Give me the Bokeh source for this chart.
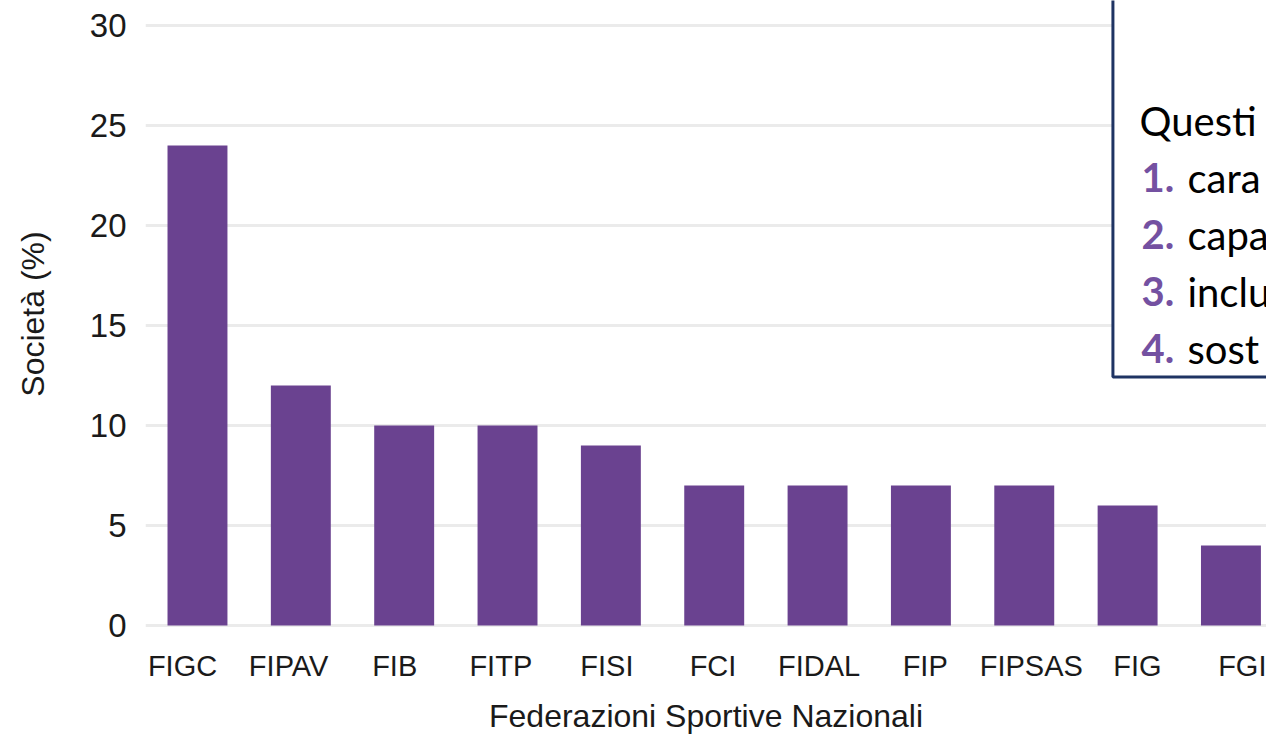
from bokeh.plotting import figure
from bokeh.models import Range1d, FixedTicker, BoxAnnotation, Label, LinearAxis
from bokeh.embed import file_html
from bokeh.resources import INLINE

# ---- data ----
federazioni = ["FIGC", "FIPAV", "FIB", "FITP", "FISI", "FCI", "FIDAL", "FIP", "FIPSAS", "FIG", "FGI"]
societa_pct = [24, 12, 10, 10, 9, 7, 7, 7, 7, 6, 4]
y_ticks = [0, 5, 10, 15, 20, 25, 30]
box_intro = "Questi"
box_numbers = ["1.", "2.", "3.", "4."]
box_items = ["cara", "capa", "inclu", "sost"]

BAR = "#6A4290"
NUM = "#7451A1"
BORDER = "#1F3463"

x_idx = list(range(len(federazioni)))

p = figure(width=1266, height=737, output_backend="svg", toolbar_location=None,
           x_range=Range1d(-0.503, 10.344), y_range=Range1d(-0.1, 31.25),
           x_axis_location=None,
           min_border_left=145, min_border_right=0, min_border_top=0, min_border_bottom=110)
p.outline_line_color = None
p.background_fill_color = "white"
p.border_fill_color = "white"

# category labels in the source sit on a slightly wider pitch than the bars
p.extra_x_ranges = {"labels": Range1d(-0.349, 10.217)}

p.vbar(x=x_idx, top=societa_pct, width=0.58, bottom=0, fill_color=BAR, line_color=None)

p.xgrid.grid_line_color = None
p.ygrid.grid_line_color = "#EBEBEB"
p.ygrid.grid_line_width = 3
p.ygrid.ticker = FixedTicker(ticks=y_ticks)

yax = p.yaxis[0]
yax.ticker = FixedTicker(ticks=y_ticks)
yax.axis_line_color = None
yax.major_tick_line_color = None
yax.minor_tick_line_color = None
yax.major_label_text_font = "Liberation Sans"
yax.major_label_text_font_size = "33px"
yax.major_label_text_color = "#1a1a1a"
yax.major_label_standoff = 13
yax.axis_label = "Società (%)"
yax.axis_label_text_font = "Liberation Sans"
yax.axis_label_text_font_size = "32px"
yax.axis_label_text_font_style = "normal"
yax.axis_label_text_color = "#1a1a1a"
yax.axis_label_standoff = 36

xax = LinearAxis(x_range_name="labels")
xax.ticker = FixedTicker(ticks=x_idx)
xax.major_label_overrides = {i: n for i, n in zip(x_idx, federazioni)}
xax.axis_line_color = None
xax.major_tick_line_color = None
xax.minor_tick_line_color = None
xax.major_label_text_font = "Liberation Sans"
xax.major_label_text_font_size = "29px"
xax.major_label_text_color = "#1a1a1a"
xax.major_label_standoff = 16
xax.axis_label = "Federazioni Sportive Nazionali"
xax.axis_label_text_font = "Liberation Sans"
xax.axis_label_text_font_size = "32px"
xax.axis_label_text_font_style = "normal"
xax.axis_label_text_color = "#1a1a1a"
xax.axis_label_standoff = 13
p.add_layout(xax, "below")

box = BoxAnnotation(left=8.858, right=12, bottom=12.425, top=40,
                    fill_color="white", fill_alpha=1.0,
                    line_color=BORDER, line_alpha=1.0, line_width=3)
p.add_layout(box)

p.add_layout(Label(x=9.115, y=25.25, text=box_intro, text_font="Lato",
                   text_font_size="40px", text_color="black", text_baseline="alphabetic"))
for k, (num, item) in enumerate(zip(box_numbers, box_items)):
    yb = 22.4 - 2.85 * k
    p.add_layout(Label(x=9.134, y=yb, text=num, text_font="Lato", text_font_style="bold",
                       text_font_size="40px", text_color=NUM, text_baseline="alphabetic"))
    p.add_layout(Label(x=9.579, y=yb, text=item, text_font="Lato",
                       text_font_size="40px", text_color="black", text_baseline="alphabetic"))

open("out.html", "w").write(file_html(p, INLINE))
